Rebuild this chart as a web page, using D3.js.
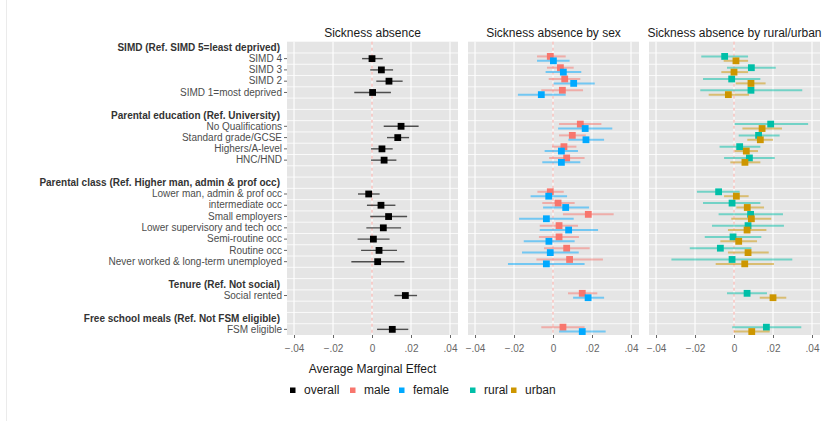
<!DOCTYPE html>
<html>
<head>
<meta charset="utf-8">
<script src="https://cdn.jsdelivr.net/npm/d3@7"></script>
<style>
  body { margin: 0; background: #fff; }
  svg { font-family: "Liberation Sans", Arial, sans-serif; display: block; }
</style>
</head>
<body>
<div id="chart"></div>
<script>
// Row layout, top to bottom ("" = spacer row)
const rowLabels = [
  "SIMD (Ref. SIMD 5=least deprived)", "SIMD 4", "SIMD 3", "SIMD 2", "SIMD 1=most deprived", "",
  "Parental education (Ref. University)", "No Qualifications", "Standard grade/GCSE", "Highers/A-level", "HNC/HND", "",
  "Parental class (Ref. Higher man, admin & prof occ)", "Lower man, admin & prof occ", "intermediate occ",
  "Small employers", "Lower supervisory and tech occ", "Semi-routine occ", "Routine occ",
  "Never worked & long-term unemployed", "",
  "Tenure (Ref. Not social)", "Social rented", "",
  "Free school meals (Ref. Not FSM eligible)", "FSM eligible"
];
const headings = [
  "SIMD (Ref. SIMD 5=least deprived)", "Parental education (Ref. University)",
  "Parental class (Ref. Higher man, admin & prof occ)", "Tenure (Ref. Not social)",
  "Free school meals (Ref. Not FSM eligible)"
];
const categories = [
  "SIMD 4", "SIMD 3", "SIMD 2", "SIMD 1=most deprived",
  "No Qualifications", "Standard grade/GCSE", "Highers/A-level", "HNC/HND",
  "Lower man, admin & prof occ", "intermediate occ", "Small employers", "Lower supervisory and tech occ",
  "Semi-routine occ", "Routine occ", "Never worked & long-term unemployed",
  "Social rented", "FSM eligible"
];

// estimates and 95% CI bounds, one value per category
const overallEst = [0.0000, 0.0048, 0.0087, 0.0003, 0.0149, 0.0132, 0.0051, 0.0062, -0.0017, 0.0046, 0.0085, 0.0058, 0.0007, 0.0036, 0.0029, 0.0171, 0.0104];
const overallLo  = [-0.0051, -0.0009, 0.0022, -0.0091, 0.0060, 0.0077, -0.0005, -0.0005, -0.0072, -0.0026, -0.0009, -0.0029, -0.0074, -0.0056, -0.0106, 0.0115, 0.0026];
const overallHi  = [0.0055, 0.0108, 0.0157, 0.0097, 0.0239, 0.0190, 0.0106, 0.0125, 0.0039, 0.0120, 0.0180, 0.0149, 0.0090, 0.0128, 0.0166, 0.0231, 0.0186];

const maleEst = [-0.0014, 0.0038, 0.0060, 0.0048, 0.0140, 0.0099, 0.0056, 0.0070, -0.0014, 0.0026, 0.0181, 0.0031, 0.0031, 0.0070, 0.0085, 0.0150, 0.0051];
const maleLo  = [-0.0082, -0.0031, -0.0022, -0.0060, 0.0031, 0.0031, -0.0005, -0.0020, -0.0080, -0.0055, 0.0051, -0.0068, -0.0072, -0.0046, -0.0085, 0.0077, -0.0060];
const maleHi  = [0.0065, 0.0106, 0.0140, 0.0154, 0.0248, 0.0168, 0.0120, 0.0162, 0.0055, 0.0111, 0.0311, 0.0128, 0.0133, 0.0188, 0.0256, 0.0227, 0.0162];

const femaleEst = [0.0002, 0.0053, 0.0106, -0.0060, 0.0165, 0.0169, 0.0043, 0.0043, -0.0022, 0.0065, -0.0034, 0.0080, -0.0021, -0.0014, -0.0034, 0.0180, 0.0150];
const femaleLo  = [-0.0082, -0.0038, 0.0003, -0.0180, 0.0026, 0.0079, -0.0043, -0.0055, -0.0115, -0.0051, -0.0174, -0.0068, -0.0150, -0.0159, -0.0231, 0.0103, 0.0031];
const femaleHi  = [0.0085, 0.0145, 0.0214, 0.0065, 0.0304, 0.0262, 0.0128, 0.0140, 0.0072, 0.0185, 0.0106, 0.0231, 0.0111, 0.0132, 0.0162, 0.0262, 0.0270];

const ruralEst = [-0.0048, 0.0089, -0.0012, 0.0087, 0.0188, 0.0126, 0.0029, 0.0079, -0.0079, -0.0010, 0.0085, 0.0072, -0.0005, -0.0070, -0.0010, 0.0067, 0.0166];
const ruralLo  = [-0.0168, -0.0036, -0.0159, -0.0173, 0.0003, 0.0024, -0.0074, -0.0051, -0.0190, -0.0159, -0.0079, -0.0113, -0.0150, -0.0227, -0.0321, -0.0036, -0.0009];
const ruralHi  = [0.0072, 0.0214, 0.0135, 0.0350, 0.0380, 0.0234, 0.0135, 0.0209, 0.0029, 0.0135, 0.0251, 0.0256, 0.0140, 0.0089, 0.0299, 0.0169, 0.0345];

const urbanEst = [0.0010, 0.0000, 0.0087, -0.0029, 0.0144, 0.0135, 0.0063, 0.0056, 0.0012, 0.0068, 0.0089, 0.0067, 0.0024, 0.0072, 0.0055, 0.0200, 0.0091];
const urbanLo  = [-0.0053, -0.0065, 0.0009, -0.0130, 0.0043, 0.0068, 0.0003, -0.0019, -0.0051, 0.0012, -0.0014, -0.0031, -0.0070, -0.0031, -0.0094, 0.0132, 0.0000];
const urbanHi  = [0.0072, 0.0072, 0.0162, 0.0077, 0.0246, 0.0200, 0.0123, 0.0135, 0.0075, 0.0154, 0.0191, 0.0166, 0.0118, 0.0178, 0.0205, 0.0268, 0.0183];

const xTicks = [-0.04, -0.02, 0, 0.02, 0.04];
const panelTitles = ["Sickness absence", "Sickness absence by sex", "Sickness absence by rural/urban"];
const legendLabels = ["overall", "male", "female", "rural", "urban"];
const legendColors = ["#000000", "#F8766D", "#00A9FF", "#00BFA8", "#CD9600"];

function series(name, est, lo, hi) {
  return categories.map((c, i) => ({ name, cat: c, est: est[i], lo: lo[i], hi: hi[i] }));
}
const panels = [
  [series("overall", overallEst, overallLo, overallHi)],
  [series("male", maleEst, maleLo, maleHi), series("female", femaleEst, femaleLo, femaleHi)],
  [series("rural", ruralEst, ruralLo, ruralHi), series("urban", urbanEst, urbanLo, urbanHi)]
];
const color = d3.scaleOrdinal().domain(legendLabels).range(legendColors);

const W = 837, H = 421;
const panelW = 171, panelGap = 10, panelLeft = 287;
const plotTop = 41.7, plotBottom = 335;

const svg = d3.select("#chart").append("svg")
  .attr("width", W).attr("height", H);

svg.append("line")
  .attr("x1", 6.5).attr("x2", 6.5).attr("y1", 0).attr("y2", H)
  .attr("stroke", "#ebebeb");

const y = d3.scaleBand()
  .domain(d3.range(rowLabels.length))
  .range([plotTop, plotBottom])
  .padding(0);
const rowOf = c => rowLabels.indexOf(c);
const yc = c => y(rowOf(c)) + y.bandwidth() / 2;

const fmt = v => v === 0 ? "0" : d3.format(".2f")(v).replace("0.", ".");

panels.forEach((groups, p) => {
  const x0 = panelLeft + p * (panelW + panelGap);
  const x = d3.scaleLinear().domain([-0.0436, 0.0441]).range([0, panelW]);
  const g = svg.append("g").attr("transform", `translate(${x0},0)`);

  g.append("rect")
    .attr("x", 0).attr("y", plotTop)
    .attr("width", panelW).attr("height", plotBottom - plotTop)
    .attr("fill", "#e5e5e5");

  // horizontal grid at row boundaries
  g.selectAll(".hgrid")
    .data(d3.range(1, rowLabels.length))
    .enter().append("line")
      .attr("x1", 0).attr("x2", panelW)
      .attr("y1", d => y(d)).attr("y2", d => y(d))
      .attr("stroke", "#fff").attr("stroke-width", 0.8);

  g.selectAll(".vgrid")
    .data(xTicks)
    .enter().append("line")
      .attr("x1", d => x(d)).attr("x2", d => x(d))
      .attr("y1", plotTop).attr("y2", plotBottom)
      .attr("stroke", "#fff").attr("stroke-width", 1.1);

  // zero reference line
  g.append("line")
    .attr("x1", x(0)).attr("x2", x(0))
    .attr("y1", plotTop).attr("y2", plotBottom)
    .attr("stroke", "#F8766D").attr("stroke-opacity", 0.6)
    .attr("stroke-dasharray", "3,3");

  const xAxis = g.append("g")
    .attr("transform", `translate(0,${plotBottom})`)
    .call(d3.axisBottom(x).tickValues(xTicks).tickSize(3).tickPadding(7).tickFormat(fmt));
  xAxis.select(".domain").remove();
  xAxis.selectAll("line").attr("stroke", "#666");
  xAxis.selectAll("text").attr("fill", "#666").style("font-size", "10px");

  g.append("text")
    .attr("x", panelW / 2).attr("y", 37)
    .attr("text-anchor", "middle")
    .style("font-size", "12px").attr("fill", "#1a1a1a")
    .text(panelTitles[p]);

  groups.forEach((data, k) => {
    const dy = groups.length === 1 ? 0 : (k === 0 ? -2.2 : 2.2);
    const solo = groups.length === 1;
    g.selectAll(".bar-" + k)
      .data(data)
      .enter().append("line")
        .attr("x1", d => x(d.lo)).attr("x2", d => x(d.hi))
        .attr("y1", d => yc(d.cat) + dy).attr("y2", d => yc(d.cat) + dy)
        .attr("stroke", d => solo ? "#333" : color(d.name))
        .attr("stroke-opacity", solo ? 0.85 : 0.5)
        .attr("stroke-width", solo ? 1.4 : 2);
    g.selectAll(".pt-" + k)
      .data(data)
      .enter().append("rect")
        .attr("x", d => x(d.est) - 3.4).attr("y", d => yc(d.cat) + dy - 3.4)
        .attr("width", 6.8).attr("height", 6.8)
        .attr("fill", d => color(d.name));
  });
});

// y axis with category labels
const yAxis = svg.append("g")
  .attr("transform", `translate(${panelLeft},0)`)
  .call(d3.axisLeft(y).tickValues(categories.map(rowOf)).tickSize(3).tickPadding(2)
    .tickFormat(i => rowLabels[i]));
yAxis.select(".domain").remove();
yAxis.selectAll("line").attr("stroke", "#666");
yAxis.selectAll("text").attr("fill", "#4d4d4d").style("font-size", "10px");

svg.selectAll(".heading")
  .data(headings)
  .enter().append("text")
    .attr("x", panelLeft - 7).attr("y", d => y(rowOf(d)) + y.bandwidth() / 2)
    .attr("dy", "0.35em")
    .attr("text-anchor", "end")
    .style("font-size", "10px").style("font-weight", "bold")
    .attr("fill", "#333")
    .text(d => d);

svg.append("text")
  .attr("x", panelLeft + panelW / 2).attr("y", 373)
  .attr("text-anchor", "middle")
  .style("font-size", "12px").attr("fill", "#1a1a1a")
  .text("Average Marginal Effect");

// legend
const legendX = [290, 350, 399, 470, 511];
const legend = svg.selectAll(".legend")
  .data(legendLabels)
  .enter().append("g")
    .attr("transform", (d, i) => `translate(${legendX[i]},390)`);
legend.append("rect")
  .attr("x", 0).attr("y", -2.5).attr("width", 5.5).attr("height", 5.5)
  .attr("fill", d => color(d));
legend.append("text")
  .attr("x", 14).attr("dy", "0.35em")
  .style("font-size", "12px").attr("fill", "#1a1a1a")
  .text(d => d);
</script>
</body>
</html>
